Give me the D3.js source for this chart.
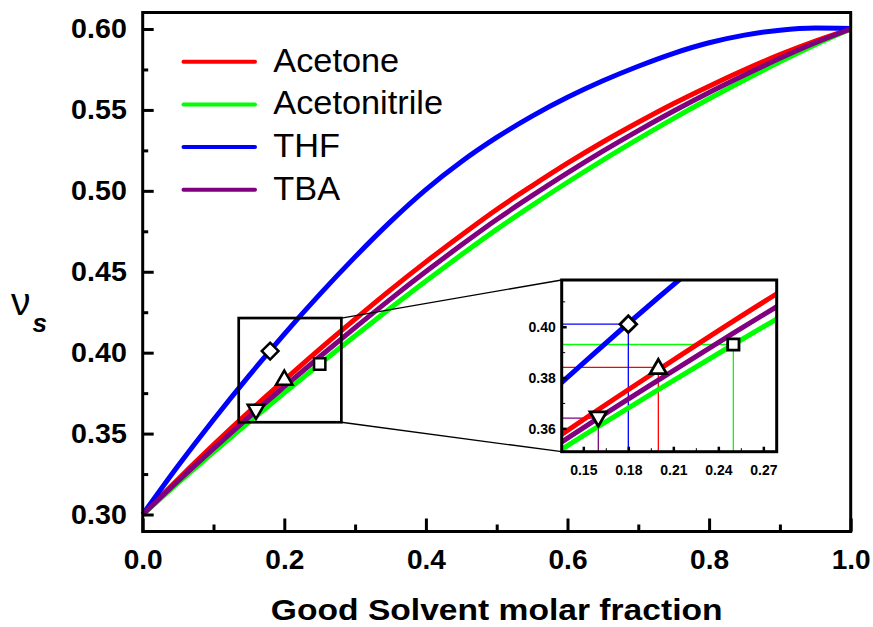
<!DOCTYPE html>
<html>
<head>
<meta charset="utf-8">
<script src="https://cdn.jsdelivr.net/npm/d3@7"></script>
<style>
  body { margin: 0; background: #fff; }
  text { font-family: "Liberation Sans", Arial, sans-serif; }
</style>
</head>
<body>
<script>
// good solvent molar fraction
const fraction = [0, 0.05, 0.1, 0.15, 0.2, 0.25, 0.3, 0.35, 0.4, 0.45, 0.5,
                  0.55, 0.6, 0.65, 0.7, 0.75, 0.8, 0.85, 0.9, 0.95, 1];

const acetone = [0.3000, 0.3218, 0.3430, 0.3634, 0.3830, 0.4022, 0.4207, 0.4388, 0.4561, 0.4726, 0.4885,
                 0.5031, 0.5171, 0.5302, 0.5424, 0.5540, 0.5647, 0.5748, 0.5842, 0.5926, 0.6000];
const acetonitrile = [0.3000, 0.3195, 0.3385, 0.3571, 0.3752, 0.3930, 0.4104, 0.4276, 0.4443, 0.4605, 0.4762,
                      0.4910, 0.5053, 0.5190, 0.5321, 0.5448, 0.5569, 0.5685, 0.5797, 0.5903, 0.6000];
const thf = [0.3000, 0.3301, 0.3586, 0.3857, 0.4115, 0.4360, 0.4592, 0.4810, 0.5008, 0.5180, 0.5330,
             0.5462, 0.5578, 0.5680, 0.5770, 0.5850, 0.5915, 0.5962, 0.5993, 0.6006, 0.6003];
const tba = [0.3000, 0.3207, 0.3407, 0.3602, 0.3790, 0.3975, 0.4155, 0.4331, 0.4501, 0.4665, 0.4823,
             0.4970, 0.5111, 0.5245, 0.5372, 0.5493, 0.5608, 0.5716, 0.5819, 0.5915, 0.6000];

const names = ["Acetone", "Acetonitrile", "THF", "TBA"];
const colors = ["#ff0000", "#00ff00", "#0000ff", "#800080"];

// marked points (one per solvent)
const markX = [0.20, 0.25, 0.18, 0.16];
const markY = [0.384, 0.393, 0.401, 0.364];
const markShape = ["up", "square", "diamond", "down"];

const xMajor = [0, 0.2, 0.4, 0.6, 0.8, 1.0];
const xMinor = [0.1, 0.3, 0.5, 0.7, 0.9];
const yMajor = [0.30, 0.35, 0.40, 0.45, 0.50, 0.55, 0.60];
const yMinor = [0.325, 0.375, 0.425, 0.475, 0.525, 0.575];

const zoomX = [0.1356, 0.2806];
const zoomY = [0.357, 0.4214];

const insetXMajor = [0.15, 0.18, 0.21, 0.24, 0.27];
const insetXMinor = [0.165, 0.195, 0.225, 0.255];
const insetYMajor = [0.36, 0.38, 0.40];
const insetYMinor = [0.37, 0.39, 0.41];

const series = names.map((n, i) => ({
  name: n,
  color: colors[i],
  values: [acetone, acetonitrile, thf, tba][i],
  mx: markX[i], my: markY[i], shape: markShape[i]
}));

const W = 873, H = 627;
const svg = d3.select("body").append("svg")
    .attr("width", W).attr("height", H)
    .attr("xmlns", "http://www.w3.org/2000/svg");

const x = d3.scaleLinear().domain([0, 1]).range([142.7, 850.7]);
const y = d3.scaleLinear().domain([0.2895, 0.6102]).range([531.5, 12.5]);

function symbolPath(shape) {
  if (shape === "square") return d3.symbol(d3.symbolSquare, 128)();
  if (shape === "diamond") return d3.symbol(d3.symbolSquare, 140)();
  return d3.symbol(d3.symbolTriangle, 118)();
}
function symbolRot(shape) {
  if (shape === "diamond") return 45;
  if (shape === "down") return 180;
  return 0;
}

function drawCurves(g, sx, sy) {
  const line = d3.line()
      .x((d, i) => sx(fraction[i]))
      .y(d => sy(d))
      .curve(d3.curveMonotoneX);
  g.selectAll("path.curve")
    .data(series)
    .join("path")
      .attr("class", "curve")
      .attr("fill", "none")
      .attr("stroke", d => d.color)
      .attr("stroke-width", 5)
      .attr("d", d => line(d.values));
}

function drawMarks(g, sx, sy, sw) {
  g.selectAll("path.mark")
    .data(series)
    .join("path")
      .attr("class", "mark")
      .attr("d", d => symbolPath(d.shape))
      .attr("transform", d => `translate(${sx(d.mx)},${sy(d.my) + (d.shape === "up" ? 1.5 : d.shape === "down" ? -1.5 : 0)}) rotate(${symbolRot(d.shape)})`)
      .attr("fill", "#fff")
      .attr("stroke", "#000")
      .attr("stroke-width", sw);
}

// ---- main plot ----
const main = svg.append("g");
drawCurves(main, x, y);
drawMarks(main, x, y, 2.5);

// frame
svg.append("rect")
    .attr("x", x(0)).attr("y", y(0.6102))
    .attr("width", x(1) - x(0)).attr("height", y(0.2895) - y(0.6102))
    .attr("fill", "none").attr("stroke", "#000").attr("stroke-width", 3);

// axes
const yAxis = svg.append("g").attr("transform", `translate(${x(0)},0)`)
    .call(d3.axisLeft(y).tickValues(yMajor).tickSize(-11).tickPadding(15).tickFormat(d3.format(".2f")));
svg.append("g").attr("transform", `translate(${x(0)},0)`)
    .call(d3.axisLeft(y).tickValues(yMinor).tickSize(-5.5).tickFormat(""));
const xAxis = svg.append("g").attr("transform", `translate(0,${y(0.2895)})`)
    .call(d3.axisBottom(x).tickValues(xMajor).tickSize(-13).tickFormat(d3.format(".1f")));
svg.append("g").attr("transform", `translate(0,${y(0.2895)})`)
    .call(d3.axisBottom(x).tickValues(xMinor).tickSize(-7).tickFormat(""));

svg.selectAll(".domain").remove();
svg.selectAll(".tick line").attr("stroke", "#000").attr("stroke-width", 3);

yAxis.selectAll("text")
    .attr("font-size", 27).attr("font-weight", "bold").attr("fill", "#000")
    .attr("font-family", "Liberation Sans, Arial, sans-serif")
    .attr("dy", null).attr("y", 8.6)
    .attr("transform", "scale(1.06,1)");
xAxis.selectAll("text")
    .attr("font-size", 27).attr("font-weight", "bold").attr("fill", "#000")
    .attr("font-family", "Liberation Sans, Arial, sans-serif")
    .attr("dy", null).attr("y", 37.8)
    .attr("transform", "scale(1.04,1)");

// axis titles
svg.append("text")
    .attr("transform", `translate(${(x(0) + x(1)) / 2},620) scale(1.12,1)`)
    .attr("text-anchor", "middle")
    .attr("font-size", 30).attr("font-weight", "bold")
    .text("Good Solvent molar fraction");

const yt = svg.append("text").attr("transform", "translate(11,315)");
yt.append("tspan").attr("font-size", 39).text("ν");
yt.append("tspan").attr("font-size", 26).attr("font-weight", "bold").attr("font-style", "italic")
    .attr("dx", 2).attr("dy", 17).text("s");

// legend
const leg = svg.append("g");
series.forEach((s, i) => {
  const ly = 61.7 + i * 42.7;
  leg.append("line")
      .attr("x1", 183.5).attr("x2", 255).attr("y1", ly).attr("y2", ly)
      .attr("stroke", s.color).attr("stroke-width", 4).attr("stroke-linecap", "round");
  leg.append("text")
      .attr("transform", `translate(273.3,${ly + 10}) scale(1.04,1)`)
      .attr("font-size", 33)
      .text(s.name);
});

// zoom box + connectors
svg.append("rect")
    .attr("x", x(zoomX[0])).attr("y", y(zoomY[1]))
    .attr("width", x(zoomX[1]) - x(zoomX[0])).attr("height", y(zoomY[0]) - y(zoomY[1]))
    .attr("fill", "none").attr("stroke", "#000").attr("stroke-width", 2.7);

// ---- inset ----
const ix = d3.scaleLinear().domain([0.1356, 0.2789]).range([561.7, 776.7]);
const iy = d3.scaleLinear().domain([0.3508, 0.4184]).range([451.7, 280]);

svg.append("line")
    .attr("x1", x(zoomX[1])).attr("y1", y(zoomY[1])).attr("x2", ix.range()[0]).attr("y2", iy.range()[1])
    .attr("stroke", "#000").attr("stroke-width", 1.3);
svg.append("line")
    .attr("x1", x(zoomX[1])).attr("y1", y(zoomY[0])).attr("x2", ix.range()[0]).attr("y2", iy.range()[0])
    .attr("stroke", "#000").attr("stroke-width", 1.3);

svg.append("defs").append("clipPath").attr("id", "insetClip")
  .append("rect")
    .attr("x", ix.range()[0]).attr("y", iy.range()[1])
    .attr("width", ix.range()[1] - ix.range()[0]).attr("height", iy.range()[0] - iy.range()[1]);

svg.append("rect")
    .attr("x", ix.range()[0]).attr("y", iy.range()[1])
    .attr("width", ix.range()[1] - ix.range()[0]).attr("height", iy.range()[0] - iy.range()[1])
    .attr("fill", "#fff");

const inset = svg.append("g").attr("clip-path", "url(#insetClip)");

// guide lines from marked points to the inset axes
series.forEach(s => {
  inset.append("path")
      .attr("d", `M${ix.range()[0]},${iy(s.my)}H${ix(s.mx)}V${iy.range()[0]}`)
      .attr("fill", "none").attr("stroke", s.color).attr("stroke-width", 1.3);
});
drawCurves(inset, ix, iy);
drawMarks(inset, ix, iy, 2.8);

svg.append("rect")
    .attr("x", ix.range()[0]).attr("y", iy.range()[1])
    .attr("width", ix.range()[1] - ix.range()[0]).attr("height", iy.range()[0] - iy.range()[1])
    .attr("fill", "none").attr("stroke", "#000").attr("stroke-width", 3);

const iyAxis = svg.append("g").attr("transform", `translate(${ix.range()[0]},0)`)
    .call(d3.axisLeft(iy).tickValues(insetYMajor).tickSize(-5).tickPadding(6).tickFormat(d3.format(".2f")));
svg.append("g").attr("transform", `translate(${ix.range()[0]},0)`)
    .call(d3.axisLeft(iy).tickValues(insetYMinor).tickSize(-3.5).tickFormat(""));
const ixAxis = svg.append("g").attr("transform", `translate(0,${iy.range()[0]})`)
    .call(d3.axisBottom(ix).tickValues(insetXMajor).tickSize(-5).tickFormat(d3.format(".2f")));
svg.append("g").attr("transform", `translate(0,${iy.range()[0]})`)
    .call(d3.axisBottom(ix).tickValues(insetXMinor).tickSize(-3.5).tickFormat(""));

svg.selectAll(".domain").remove();
svg.selectAll(".tick line").attr("stroke", "#000");
iyAxis.selectAll(".tick line").attr("stroke-width", 2.5);
ixAxis.selectAll(".tick line").attr("stroke-width", 2.5);

[iyAxis, ixAxis].forEach(a => a.selectAll("text")
    .attr("font-size", 14).attr("font-weight", "bold").attr("fill", "#000")
    .attr("font-family", "Liberation Sans, Arial, sans-serif")
    .attr("dy", null));
iyAxis.selectAll("text").attr("y", 5);
ixAxis.selectAll("text").attr("y", 23.5);
</script>
</body>
</html>
